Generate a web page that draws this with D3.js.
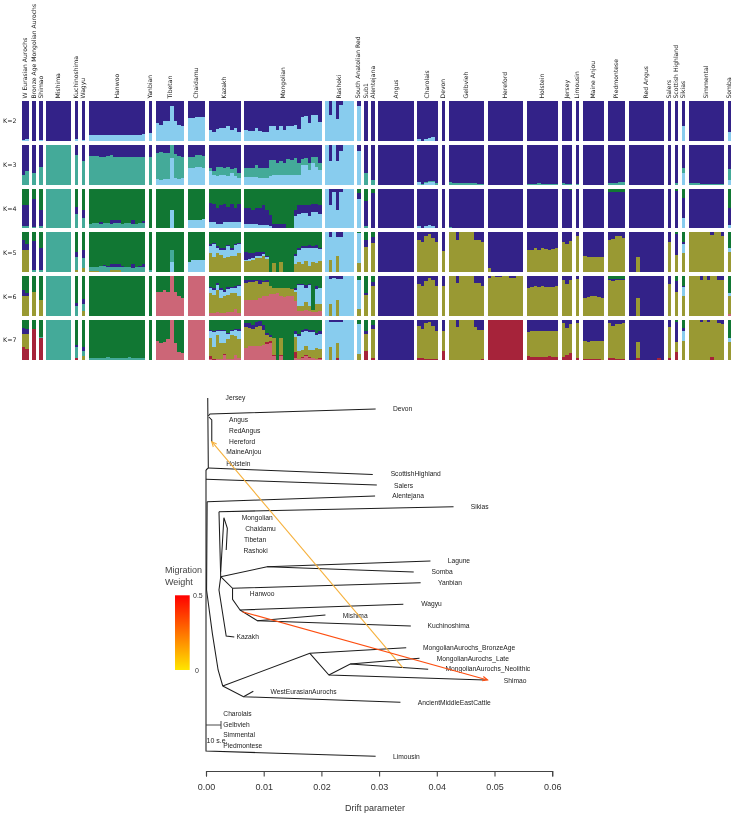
<!DOCTYPE html>
<html><head><meta charset="utf-8">
<script src="https://cdn.jsdelivr.net/npm/d3@7/dist/d3.min.js"></script>
<style>html,body{margin:0;padding:0;background:#fff}svg{display:block;filter:blur(.4px)}</style>
</head><body><svg id="c" width="738" height="816"></svg>
<script>
// ---------- Ancestry panel: groups ----------
const groupIds = ["WEA","BAM","SHI","MIS","KUC","WAG","HAN","YAN","TIB","CHA","KAZ","MON","RAS","SAR","SUB","ALE","ANG","CHR","DEV","GEL","HER","HOL","JER","LIM","MAI","PIE","RED","SAL","SCO","SIK","SIM","SOM"];
const groupNames = ["W Eurasian Aurochs","Bronze Age Mongolian Aurochs","Shimao","Mishima","Kuchinoshima","Wagyu","Hanwoo","Yanbian","Tibetan","Chaidamu","Kazakh","Mongolian","Rashoki","South Anatolian Red","Sub1","Alentejana","Angus","Charolais","Devon","Gelbvieh","Hereford","Holstein","Jersey","Limousin","Maine Anjou","Piedmontese","Red Angus","Salers","Scottish Highland","Sikias","Simmental","Somba"];
const groupSizes = [2,1,1,7,1,1,16,1,8,5,9,22,8,1,1,1,10,6,1,10,10,9,3,1,6,5,10,1,1,1,10,1];
const kLabels = ["K=2","K=3","K=4","K=5","K=6","K=7"];
const ancestryColors = {navy:"#332288",sky:"#88ccee",teal:"#44aa99",green:"#117733",olive:"#999933",pink:"#cc6677",crimson:"#a6233a"};

// Each list holds, per group, the upper edge (percent of the bar) of a colour in the stack.
const k2Sky = {WEA:[2,3],SHI:2,KUC:5,WAG:2,HAN:[15,14,14,13,14,14,14,13,14,14,15,15,14,15,15,16],YAN:20,TIB:[44,40,48,48,87,48,40,36],CHA:[56,56,60,60,59],KAZ:[27,21,30,32,31,36,26,31,21],MON:[26,24,24,31,23,21,22,37,37,26,36,26,37,37,39,29,60,62,45,65,64,47],RAS:[100,63,100,54,89,100,100,100],SAR:87,CHR:[5,0,5,7,8,0],SIK:36,SOM:22};

const k3Sky = {TIB:[15,12,13,14,67,16,15,17],CHA:[41,41,45,45,41],KAZ:[33,25,21,25,25,21,29,21,17],MON:[20,20,20,20,17,17,17,22,23,23,25,25,25,25,25,25,50,50,37,54,45,37],RAS:[100,60,100,60,85,100,100,100],SAR:83,CHR:[6,0,5,7,7,0],SIK:30,SOM:12};
const k3Teal = {WEA:[25,35],BAM:30,SHI:45,MIS:100,KUC:75,WAG:58,HAN:[72,72,71,70,70,72,73,70,69,69,70,69,68,69,70,70],YAN:68,TIB:[78,81,80,78,100,76,72,68],CHA:[70,70,74,74,72],KAZ:[41,33,43,45,41,45,39,41,29],MON:[41,41,41,50,41,41,41,62,62,54,60,54,64,62,66,54,64,66,54,70,70,54],SUB:28,ALE:12,CHR:[6,1,6,8,8,3],GEL:[6,5,3,3,4,4,3,3,1,1],HOL:[1,1,1,3,1,1,1,1,1],JER:[3,2,2],LIM:2,PIE:[3,5,5,6,6],SCO:5,SIK:41,SIM:[3,3,4,1,1,1,1,2,1,1],SOM:40};

const k4Teal = {WEA:5,BAM:3,SHI:5,MIS:100,KUC:36,WAG:25,HAN:[10,13,13,12,14,14,11,13,13,12,13,13,12,12,13,13],GEL:[3,2,2,2,2,1,1,1,1,1],JER:2,SUB:6};
const k4Sky = {TIB:[0,0,0,0,46,0,0,0],CHA:[20,20,22,22,24],KAZ:[15,15,12,12,15,15,15,15,15],MON:[12,12,12,10,8,8,8,5,0,0,0,0,0,0,30,35,38,38,32,40,40,35],RAS:[100,60,92,46,92,100,100,100],SAR:73,CHR:[5,0,5,8,5,0],HOL:[0,0,0,2,0,0,0,0,0],PIE:2,SIK:25,SOM:8,SIM:1};
const k4Navy = {WEA:60,BAM:75,SHI:47,MIS:0,KUC:53,WAG:45,HAN:[0,0,0,15,14,14,20,21,20,12,13,13,22,12,13,18],YAN:0,TIB:0,CHA:0,KAZ:[64,61,50,58,62,54,62,50,62],MON:[52,52,46,52,50,58,46,33,12,10,10,10,0,0,45,60,60,60,58,62,62,58],SAR:90,SUB:70,ALE:88,JER:[100,100,97],PIE:92,SCO:95,SIK:77,SOM:52};

const k5Olive = {WEA:55,KUC:6,WAG:12,HAN:[3,3,3,1,1,1,6,7,6,2,1,1,1,1,1,1],CHA:2,KAZ:[48,39,48,44,35,39,41,42,48],MON:[28,28,30,35,35,42,34,0,24,0,26,0,1,0,20,25,22,28,15,26,24,28],RAS:[0,30,0,42,0,0,0,0],SAR:24,SUB:63,ALE:73,CHR:[82,75,90,96,87,76],DEV:54,GEL:[100,100,82,100,100,100,100,82,82,76],HER:[10,0,0,0,0,0,0,0,0,0],HOL:[55,57,60,57,60,58,57,58,60],JER:[75,70,78],LIM:90,MAI:[40,38,39,39,38,38],PIE:[82,84,90,90,86],RED:[0,0,38,0,0,0,0,0,0,0],SAL:76,SCO:44,SIK:48,SIM:[100,100,100,100,100,100,93,100,100,92],SOM:52};
const k5Sky = {TIB:[0,0,0,0,27,0,0,0],CHA:[25,30,30,30,30],KAZ:[65,70,60,56,56,65,56,68,70],MON:[32,33,36,40,40,46,38,0,0,0,0,0,0,0,40,56,60,60,62,60,62,58],RAS:[100,88,100,88,88,100,100,100],SAR:98,SIK:72,SOM:60};
const k5Teal = {BAM:6,SHI:6,MIS:100,KUC:38,WAG:37,HAN:[13,14,14,15,15,14,14,13,14,13,13,13,12,13,14,14],YAN:5,TIB:[0,0,0,0,57,0,0,0]};
const k5Navy = {WEA:[82,71],BAM:79,SHI:60,MIS:0,KUC:52,WAG:55,HAN:[0,0,0,15,18,16,20,21,20,15,13,13,22,14,15,20],YAN:0,TIB:0,CHA:0,KAZ:[70,74,65,60,60,69,60,72,74],MON:[50,48,48,52,50,52,42,0,0,0,0,0,0,0,45,60,66,66,68,65,68,62],SAR:98,SUB:80,ALE:88,SCO:95,SIK:75,SOM:60};

const k6Pink = {TIB:[62,60,66,60,100,60,50,47],CHA:100,KAZ:[8,8,10,8,8,10,10,18,8],MON:[42,42,40,42,46,50,50,55,55,58,50,48,52,50,38,12,14,16,12,10,10,12],SOM:5};
const k6Olive = {WEA:51,BAM:60,SHI:41,WAG:14,KAZ:[58,54,66,45,50,54,58,58,50],MON:[83,85,85,88,82,85,85,75,72,72,72,70,70,68,62,25,25,35,25,15,30,30],RAS:[0,32,0,42,0,0,0,0],SAR:17,SUB:54,ALE:77,CHR:[82,75,88,95,90,76],DEV:75,GEL:[100,100,84,100,100,100,100,84,84,76],HER:[96,100,98,98,100,100,97,97,100,100],HOL:[72,73,75,73,75,74,73,74,75],JER:[92,82,92],LIM:93,MAI:[47,48,50,50,48,47],PIE:[90,88,92,92,92],RED:[0,0,46,0,0,0,0,0,0,0],SAL:82,SCO:62,SIK:50,SIM:[100,100,100,92,100,92,100,100,92,90],SOM:52};
const k6Teal = {MIS:100,KUC:27,WAG:30,HAN:1};
const k6Sky = {KAZ:[70,66,79,66,62,69,70,72,75],MON:[0,0,0,0,0,0,0,0,0,0,0,0,0,0,65,78,78,72,78,15,68,70],RAS:[100,94,96,94,94,100,100,100],SAR:90,SIK:74,SOM:58};
const k6Navy = {WEA:[65,58],BAM:0,SHI:0,MIS:0,KUC:33,WAG:43,HAN:0,YAN:0,TIB:0,CHA:0,KAZ:[74,70,83,70,66,73,74,76,79],MON:[92,92,90,90,90,88,90,0,0,0,0,0,0,0,70,82,82,78,82,0,75,72],SAR:90,SUB:58,ALE:87,PIE:93,SCO:88,SIK:77,SOM:58};

const k7Pink = {TIB:[48,42,46,53,100,42,21,17],CHA:100,KAZ:[2,0,3,3,12,2,3,12,6],MON:[30,35,35,35,35,38,40,42,10,0,10,0,0,0,5,3,5,10,5,5,3,3]};
const k7Crimson = {WEA:[33,28],BAM:78,SHI:55,KUC:5,KAZ:[10,2,3,3,15,2,3,12,6],MON:[30,35,35,35,35,38,46,48,13,0,13,0,0,0,20,3,7,12,8,5,3,5],RAS:[0,0,0,5,0,0,0,0],SUB:23,ALE:5,CHR:[5,6,4,2,2,2],DEV:22,GEL:[0,0,0,0,0,0,0,0,0,3],HER:100,HOL:[10,9,8,7,8,9,10,9,8],JER:[7,12,17],LIM:5,MAI:[2,2,4,4,2,0],PIE:[5,5,2,2,4],RED:[0,0,5,0,0,0,0,0,5,0],SAL:6,SCO:20,SIM:[0,0,0,0,0,0,8,0,0,0]};
const k7Olive = {WEA:65,SHI:55,WAG:10,KAZ:[56,32,64,43,43,52,62,60,52],MON:[82,80,78,84,86,75,62,58,55,0,55,0,0,0,58,22,25,35,25,25,30,28],RAS:[0,32,0,42,0,0,0,0],SAR:15,SUB:66,ALE:77,CHR:[85,77,92,96,85,74],DEV:74,GEL:[100,100,82,100,100,100,100,82,76,76],HOL:[70,72,73,72,72,72,72,73,73],JER:[92,80,90],LIM:92,MAI:[47,46,48,49,47,47],PIE:[92,85,90,90,92],RED:[0,0,45,0,0,0,0,0,0,0],SAL:82,SCO:45,SIK:48,SIM:[100,100,100,95,100,95,100,100,92,90],SOM:45};
const k7Teal = {SHI:58,MIS:100,KUC:33,WAG:22,HAN:[6,5,6,5,5,7,6,6,6,5,6,7,6,5,5,6]};
const k7Sky = {KAZ:[72,70,72,72,72,65,72,76,74],MON:[0,0,0,0,0,0,0,0,0,0,0,0,0,0,65,60,70,72,70,70,62,66],RAS:[100,95,96,95,95,100,100,100],SAR:90,SIK:74,SOM:55};
const k7Navy = {WEA:[80,78],BAM:0,SHI:0,MIS:0,KUC:38,WAG:32,HAN:0,YAN:0,TIB:0,CHA:0,KAZ:[75,73,75,75,75,68,75,79,77],MON:[92,92,88,95,97,88,68,62,0,0,0,0,0,0,72,66,75,78,75,75,68,72],SAR:90,SUB:72,ALE:89,SCO:95,SIK:80,SOM:55};

const kStacks = [
  [["sky",k2Sky],["navy",{}]],
  [["sky",k3Sky],["teal",k3Teal],["navy",{}]],
  [["teal",k4Teal],["sky",k4Sky],["navy",k4Navy],["green",{}]],
  [["olive",k5Olive],["sky",k5Sky],["teal",k5Teal],["navy",k5Navy],["green",{}]],
  [["pink",k6Pink],["olive",k6Olive],["teal",k6Teal],["sky",k6Sky],["navy",k6Navy],["green",{}]],
  [["pink",k7Pink],["crimson",k7Crimson],["olive",k7Olive],["teal",k7Teal],["sky",k7Sky],["navy",k7Navy],["green",{}]]
];

// ---------- Drift tree: each branch is a list of [drift, tree position] ----------
const treeBranches = [
  [[.0003,3],[.0004,73],[0,75]],
  [[.0004,73],[.0289,79.5]],
  [[.0004,21],[.0007,19],[.0294,14]],
  [[.0005,22],[.001,25],[.001,47]],
  [[0,75],[0,356],[.0294,361.3]],
  [[0,84.3],[.0296,90]],
  [[.0002,106.7],[.0293,101]],
  [[.0002,106.7],[.0001,195],[.0011,238.3],[.0021,275],[.0029,291]],
  [[.00225,116.7],[.0429,111.7]],
  [[.00225,116.7],[.00255,181.7],[.00225,195],[.0035,241],[.0049,242]],
  [[.00255,176.7],[.0031,122.7],[.0037,133.3],[.0035,155]],
  [[.00255,181.7],[.0106,171.7],[.0389,166]],
  [[.0106,171.7],[.036,177]],
  [[.00255,181.7],[.0046,193.3],[.0372,187.7]],
  [[.0046,193.3],[.0046,204.3],[.0059,215],[.0342,209.3]],
  [[.0059,215],[.0089,225.7],[.0207,220]],
  [[.0089,225.7],[.0355,231]],
  [[.0029,291],[.018,258.3],[.0347,252.7]],
  [[.018,258.3],[.0213,280],[.0484,285]],
  [[.0213,280],[.025,269],[.037,263.3]],
  [[.025,269],[.0385,274.3]],
  [[.0029,291],[.0065,301.7],[.0337,307.3]],
  [[.0065,301.7],[.0082,296.3]]
];
const treeLabels = [["Jersey",.0034,2.7],["Angus",.004,24.3],["RedAngus",.004,35.3],["Hereford",.004,46.7],["MaineAnjou",.0035,56.7],["Holstein",.0035,68.3],["Mongolian",.0062,122.3],["Chaidamu",.0068,133.7],["Tibetan",.0066,144.7],["Rashoki",.0065,155.3],["Hanwoo",.0076,198.5],["Kazakh",.0053,242],["WestEurasianAurochs",.0112,296.3],["Charolais",.003,318.3],["Gelbvieh",.003,329.3],["Simmental",.003,340],["Piedmontese",.003,350.7],["Devon",.0324,14],["ScottishHighland",.032,78.3],["Salers",.0326,90.3],["Alentejana",.0323,100.3],["Sikias",.0459,111.7],["Lagune",.0419,165.3],["Somba",.0391,177],["Yanbian",.0402,187.7],["Wagyu",.0373,208.7],["Kuchinoshima",.0384,231],["Mishima",.0237,220.3],["MongolianAurochs_BronzeAge",.0376,252.3],["MongolianAurochs_Late",.04,263.3],["MongolianAurochs_Neolithic",.0415,274],["Shimao",.0516,285.7],["AncientMiddleEastCattle",.0367,307.3],["Limousin",.0324,361.7]];
const migrationEdges = [
  {weight:.12,from:[.0341,272.7],to:[.001,46.7]},
  {weight:.4,from:[.0063,216.7],to:[.0488,285]}
];
const scaleBarDrift = .0026;
const scaleBarPos = 330;
const driftTicks = [0,.01,.02,.03,.04,.05,.06];
const weightTicks = [0,.5];

// ---------- Drawing ----------
const svg = d3.select("#c");
const barFont = "'DejaVu Sans',sans-serif", treeFont = "'Liberation Sans',Arial,sans-serif";

const nUnits = d3.sum(groupSizes) + groupSizes.length - 1;
const xUnit = d3.scaleLinear().domain([0,nUnits]).range([21.7,731.3]);
const rowBand = d3.scaleBand().domain(kLabels).range([100.7,360.2]).paddingInner(.09);
const pct = d3.scaleLinear().domain([0,100]).range([rowBand.bandwidth(),0]);

const samples = [];
let u = 0;
const groupPos = groupIds.map((id,g)=>{
  const start = u;
  d3.range(groupSizes[g]).forEach(i=>samples.push({id,i,u:start+i}));
  u += groupSizes[g] + 1;
  return {id,name:groupNames[g],mid:start+groupSizes[g]/2};
});
const edgeOf = (list,d,color)=>{
  const v = list[d.id];
  if (v===undefined) return (color==="navy"||color==="green") ? 100 : 0;
  return Array.isArray(v) ? (v[d.i] ?? 0) : v;
};
kLabels.forEach((k,ki)=>{
  const row = svg.append("g").attr("transform",`translate(0,${rowBand(k)})`).attr("shape-rendering","crispEdges");
  const stack = kStacks[ki];
  samples.forEach(d=>{
    let prev = 0;
    stack.forEach(([color,list])=>{
      const top = color==="green" ? 100 : Math.min(100,Math.max(prev,edgeOf(list,d,color)));
      if (top>prev) row.append("rect")
        .attr("x",xUnit(d.u)).attr("width",xUnit(d.u+1)-xUnit(d.u))
        .attr("y",pct(top)).attr("height",pct(prev)-pct(top))
        .attr("fill",ancestryColors[color]);
      prev = top;
    });
  });
});
svg.append("g").selectAll("text").data(kLabels).join("text")
  .attr("x",3).attr("y",k=>rowBand(k)+rowBand.bandwidth()/2+2.2)
  .attr("font-family",barFont).attr("font-size",6.3).attr("fill","#222").text(k=>k);
svg.append("g").selectAll("text").data(groupPos).join("text")
  .attr("transform",d=>`translate(${xUnit(d.mid)+1.6},98.5) rotate(-90)`)
  .attr("font-family",barFont).attr("font-size",6.1).attr("fill","#222").text(d=>d.name);

// tree
const xDrift = d3.scaleLinear().domain([0,.06]).range([206,552.2]);
const yTree = d3.scaleLinear().domain([0,370]).range([395,765]);
const lineGen = d3.line().x(p=>xDrift(p[0])).y(p=>yTree(p[1]));
svg.append("g").selectAll("path").data(treeBranches).join("path")
  .attr("d",lineGen).attr("fill","none").attr("stroke","#1c1c1c").attr("stroke-width",1.05);
svg.append("g").selectAll("text").data(treeLabels).join("text")
  .attr("x",d=>xDrift(d[1])).attr("y",d=>yTree(d[2])+2.4)
  .attr("font-family",treeFont).attr("font-size",6.7).attr("fill","#222").text(d=>d[0]);

// scale bar
svg.append("path").attr("fill","none").attr("stroke","#333").attr("stroke-width",.9)
  .attr("d",`M${xDrift(0)},${yTree(scaleBarPos)}H${xDrift(scaleBarDrift)}M${xDrift(scaleBarDrift)},${yTree(scaleBarPos-4)}V${yTree(scaleBarPos+4)}`);
svg.append("text").attr("x",xDrift(0)+.5).attr("y",yTree(scaleBarPos+15)+2.6)
  .attr("font-family",treeFont).attr("font-size",7).attr("fill","#222").text("10 s.e.");

// migration
const weightColor = d3.scaleLinear().domain([0,.12,.5]).range(["#ffe600","#f6b13d","#ff2a00"]);
const defs = svg.append("defs");
const grad = defs.append("linearGradient").attr("id","wg").attr("x1",0).attr("x2",0).attr("y1",1).attr("y2",0);
d3.range(0,1.01,.1).forEach(t=>grad.append("stop").attr("offset",t).attr("stop-color",d3.interpolateRgb("#ffe600","#ff0000")(t)));
migrationEdges.forEach(e=>{
  const c = weightColor(e.weight);
  const [x1,y1,x2,y2] = [xDrift(e.from[0]),yTree(e.from[1]),xDrift(e.to[0]),yTree(e.to[1])];
  svg.append("line").attr("x1",x1).attr("y1",y1).attr("x2",x2).attr("y2",y2).attr("stroke",c).attr("stroke-width",1.1);
  const a = Math.atan2(y2-y1,x2-x1), L = 5.5;
  const pts = [-.42,.42].map(s=>[x2-L*Math.cos(a+s),y2-L*Math.sin(a+s)]);
  svg.append("path").attr("fill","none").attr("stroke",c).attr("stroke-width",1.1)
    .attr("d",`M${pts[0]}L${x2},${y2}L${pts[1]}`);
});

// legend
const yWeight = d3.scaleLinear().domain([0,.5]).range([670,595.3]);
svg.append("rect").attr("x",175).attr("y",yWeight(.5)).attr("width",14.7).attr("height",yWeight(0)-yWeight(.5)).attr("fill","url(#wg)");
svg.append("g").selectAll("text").data(weightTicks).join("text")
  .attr("x",d=>d?193:195).attr("y",d=>yWeight(d)+2.6)
  .attr("font-family",treeFont).attr("font-size",7).attr("fill","#333").text(d=>d);
svg.append("g").selectAll("text").data(["Migration","Weight"]).join("text")
  .attr("x",165).attr("y",(d,i)=>573+i*12)
  .attr("font-family",treeFont).attr("font-size",9).attr("fill","#444").text(d=>d);

// axis
const axis = svg.append("g").attr("transform","translate(0,771)")
  .call(d3.axisBottom(xDrift).tickValues(driftTicks).tickFormat(d3.format(".2f")).tickSize(5.5).tickPadding(7));
axis.selectAll("path,line").attr("stroke","#444").attr("stroke-width",1.1);
axis.selectAll("text").attr("font-family",treeFont).attr("font-size",9).attr("fill","#333");
svg.append("text").attr("x",xDrift(.0293)).attr("y",811).attr("text-anchor","middle")
  .attr("font-family",treeFont).attr("font-size",9).attr("fill","#333").text("Drift parameter");
</script></body></html>
